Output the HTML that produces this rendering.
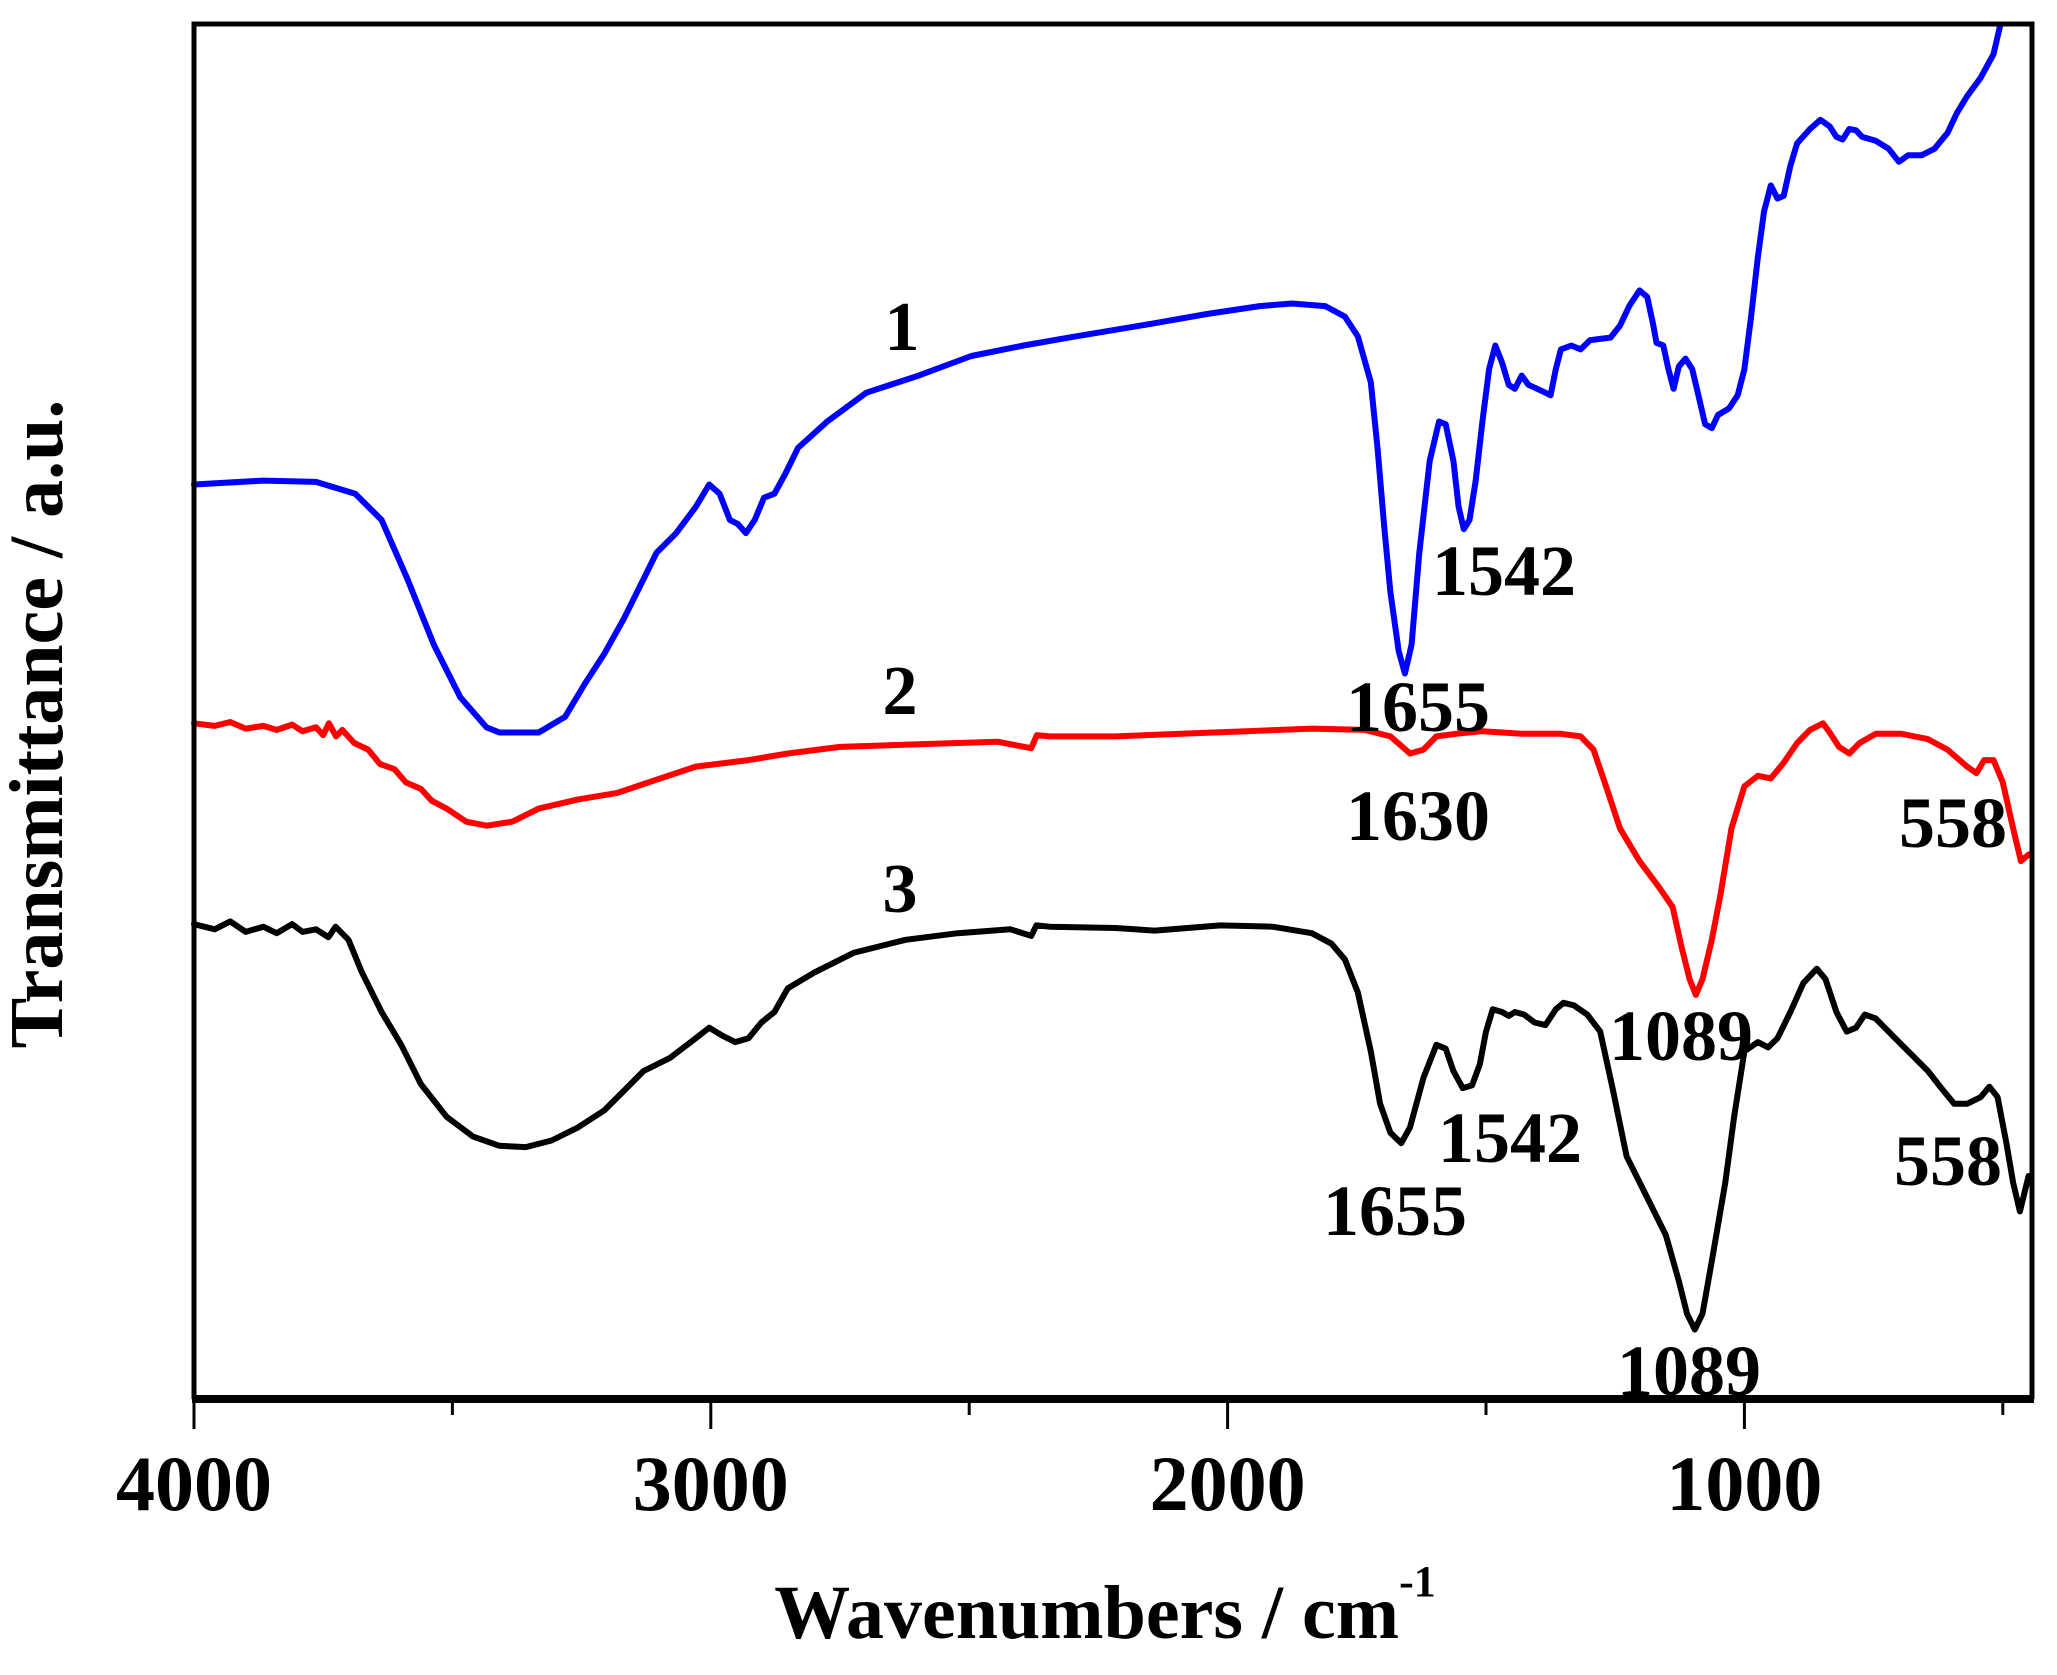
<!DOCTYPE html>
<html><head><meta charset="utf-8">
<style>
html,body{margin:0;padding:0;background:#fff;}
svg{display:block;}
text{font-family:"Liberation Serif",serif;font-weight:bold;fill:#000;}
</style></head>
<body>
<svg id="chart" width="2057" height="1675" viewBox="0 0 2057 1675" xmlns="http://www.w3.org/2000/svg">
<rect width="2057" height="1675" fill="#fff"/>
<g id="series"></g>
<g id="frame"></g>
</svg>
<script>
const xTicks = [4000, 3000, 2000, 1000];
const xMinorTicks = [3500, 2500, 1500, 500];
const blueData = [[4000,697],[3866,700],[3764,699],[3688,690],[3637,670],[3587,625],[3536,575],[3485,535],[3434,512],[3409,508],[3333,508],[3282,520],[3244,545],[3206,568],[3168,595],[3130,625],[3105,645],[3067,660],[3029,680],[3003,697],[2983,690],[2963,670],[2948,667],[2932,660],[2915,670],[2897,687],[2877,690],[2856,705],[2831,725],[2775,745],[2699,767],[2598,780],[2496,795],[2395,803],[2293,810],[2141,820],[2040,827],[1938,833],[1875,835],[1811,833],[1773,825],[1748,810],[1723,775],[1710,725],[1697,665],[1685,615],[1669,570],[1657,553],[1644,575],[1629,645],[1609,715],[1591,745],[1578,743],[1563,715],[1553,680],[1543,663],[1532,670],[1520,700],[1507,745],[1494,785],[1482,803],[1469,790],[1456,773],[1444,770],[1431,780],[1418,773],[1401,770],[1385,767],[1375,765],[1365,785],[1355,800],[1335,803],[1317,800],[1299,807],[1279,808],[1259,809],[1241,818],[1223,833],[1203,845],[1188,840],[1177,820],[1170,805],[1157,803],[1147,785],[1137,770],[1127,787],[1114,793],[1101,785],[1089,765],[1076,743],[1063,740],[1051,750],[1030,755],[1013,765],[1000,785],[987,825],[974,870],[962,905],[949,925],[936,915],[924,917],[911,940],[898,957],[873,968],[853,975],[835,970],[822,962],[810,960],[797,968],[784,967],[772,962],[746,959],[721,953],[701,943],[683,948],[657,948],[632,953],[607,965],[589,980],[569,993],[543,1007],[518,1025],[505,1047]];
const redData = [[4000,515],[3960,513],[3930,516],[3900,511],[3866,513],[3840,510],[3810,514],[3790,509],[3764,512],[3750,506],[3739,515],[3725,505],[3713,510],[3690,500],[3663,495],[3640,484],[3612,480],[3590,470],[3561,465],[3540,456],[3511,450],[3473,440],[3434,437],[3384,440],[3333,450],[3257,457],[3181,462],[3105,472],[3029,482],[2927,487],[2851,492],[2750,497],[2598,499],[2445,501],[2380,496],[2369,506],[2344,505],[2217,505],[2090,507],[1964,509],[1837,511],[1735,510],[1685,505],[1647,492],[1621,495],[1596,505],[1558,507],[1507,509],[1431,507],[1355,507],[1317,505],[1292,495],[1266,465],[1241,435],[1203,410],[1165,390],[1139,375],[1122,345],[1106,320],[1094,308],[1081,320],[1063,350],[1046,385],[1025,435],[1000,467],[974,475],[949,473],[924,485],[898,500],[873,510],[848,515],[835,508],[817,497],[797,492],[777,500],[746,507],[696,507],[645,503],[607,495],[569,482],[551,477],[536,487],[518,487],[500,470],[480,435],[465,410],[450,415]];
const blackData = [[4000,362],[3960,358],[3930,364],[3900,356],[3866,360],[3840,355],[3810,362],[3790,356],[3764,358],[3740,352],[3726,360],[3701,350],[3675,325],[3637,295],[3599,270],[3561,240],[3511,215],[3460,200],[3409,193],[3358,192],[3308,197],[3257,207],[3206,220],[3168,235],[3130,250],[3079,260],[3029,275],[3003,283],[2978,277],[2953,272],[2927,275],[2902,287],[2877,295],[2851,313],[2800,325],[2724,340],[2623,350],[2522,355],[2420,358],[2380,353],[2370,361],[2344,360],[2217,359],[2141,357],[2014,361],[1913,360],[1837,355],[1799,347],[1773,335],[1748,310],[1723,265],[1705,225],[1685,203],[1664,195],[1647,207],[1621,245],[1596,270],[1578,267],[1563,250],[1545,237],[1527,239],[1512,255],[1500,280],[1487,297],[1469,295],[1456,292],[1444,295],[1426,293],[1406,287],[1385,285],[1365,297],[1350,302],[1330,300],[1304,293],[1279,280],[1254,235],[1228,185],[1190,155],[1152,125],[1127,90],[1111,65],[1096,53],[1081,65],[1063,105],[1037,165],[1020,215],[1000,265],[974,272],[954,268],[936,275],[911,295],[886,317],[860,328],[843,320],[822,295],[802,280],[784,283],[767,293],[746,290],[721,280],[683,265],[645,250],[619,237],[594,225],[569,225],[543,230],[526,238],[510,230],[493,195],[480,165],[467,143],[450,170]];

const X0 = 194, X1 = 2032, Y0 = 24, Y1 = 1399;
function xs(w){ return X0 + (4000 - w) * 0.5168; }
function ys(t){ return Y1 - t * 1.312; }
const NS = "http://www.w3.org/2000/svg";
function mk(tag, attrs, parent){ const e=document.createElementNS(NS,tag); for(const k in attrs) e.setAttribute(k,attrs[k]); parent.appendChild(e); return e; }

const series = document.getElementById('series');
function drawLine(data, color, name){
  const d = data.map((p,i)=>(i?'L':'M')+xs(p[0]).toFixed(1)+','+ys(p[1]).toFixed(1)).join(' ');
  const p = mk('path',{d:d,fill:'none',stroke:color,'stroke-width':6,'stroke-linejoin':'round','stroke-linecap':'round'},series);
  
  
}
drawLine(blueData,'#0000ff','series-1-line');
drawLine(redData,'#ff0000','series-2-line');
drawLine(blackData,'#000000','series-3-line');

const frame = document.getElementById('frame');
const box = mk('path',{d:`M${X0},${Y1} L${X0},${Y0} L${X1},${Y0} L${X1},${Y1}`,fill:'none',stroke:'#000','stroke-width':5},frame);


const xaxis = mk('line',{x1:X0-2,y1:Y1,x2:X1+2,y2:Y1,stroke:'#000','stroke-width':8},frame);


xTicks.forEach(v=>{
  const t = mk('line',{x1:xs(v),y1:Y1,x2:xs(v),y2:Y1+30,stroke:'#000','stroke-width':3},frame);
  
  
  const l = mk('text',{x:xs(v),y:1510,'text-anchor':'middle','font-size':78},frame);
  l.textContent = v;
  
  
});
xMinorTicks.forEach(v=>{
  const t = mk('line',{x1:xs(v),y1:Y1,x2:xs(v),y2:Y1+16,stroke:'#000','stroke-width':3},frame);
  
  
});
</script>
<svg style="position:absolute;left:0;top:0" width="2057" height="1675" viewBox="0 0 2057 1675">
<text x="1105" y="1638" text-anchor="middle" font-size="76">Wavenumbers / cm<tspan font-size="44" dy="-42">-1</tspan></text>
<text transform="translate(62,724) rotate(-90)" text-anchor="middle" font-size="76">Transmittance / a.u.</text>
<text x="902" y="350" text-anchor="middle" font-size="70">1</text>
<text x="900" y="714" text-anchor="middle" font-size="70">2</text>
<text x="900" y="912" text-anchor="middle" font-size="70">3</text>
<text x="1432" y="595" font-size="72">1542</text>
<text x="1346" y="731" font-size="72">1655</text>
<text x="1346" y="840" font-size="72">1630</text>
<text x="1899" y="847" font-size="72">558</text>
<text x="1609" y="1060" font-size="72">1089</text>
<text x="1438" y="1162" font-size="72">1542</text>
<text x="1323" y="1235" font-size="72">1655</text>
<text x="1617" y="1395" font-size="72">1089</text>
<text x="1894" y="1185" font-size="72">558</text>
</svg>
</body></html>
